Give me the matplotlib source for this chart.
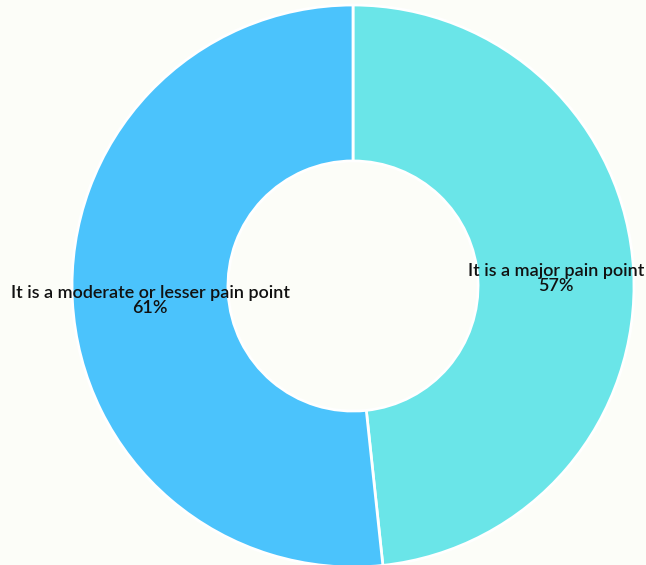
import matplotlib
matplotlib.use("Agg")
import matplotlib.pyplot as plt
import numpy as np

labels = ["It is a major pain point", "It is a moderate or lesser pain point"]
values = [57, 61]
colors = ["#6ae5e8", "#4bc3fc"]
background = "#fcfdf8"

W, H = 646, 565
fig = plt.figure(figsize=(W / 100, H / 100), dpi=100, facecolor=background)

# donut centre and radius in pixels
cx, cy, R = 353, 279, 281
ax = fig.add_axes([(cx - R) / W, (cy - R) / H, 2 * R / W, 2 * R / H])
ax.set_facecolor(background)

inner = 0.445
wedges, _ = ax.pie(
    values,
    radius=1,
    colors=colors,
    startangle=90,
    counterclock=False,
    wedgeprops=dict(width=1 - inner, edgecolor="white", linewidth=2, joinstyle="round"),
)
for w in wedges:
    w.set_clip_on(False)
ax.set_xlim(-1, 1)
ax.set_ylim(-1, 1)
ax.set_aspect("equal")
ax.axis("off")

total = sum(values)
start = 90.0
mid_r = (1 + inner) / 2
for lab, v in zip(labels, values):
    sweep = 360.0 * v / total
    mid = np.deg2rad(start - sweep / 2)
    x, y = mid_r * np.cos(mid), mid_r * np.sin(mid) - 0.012
    ax.text(x, y, f"{lab}\n{v}%", ha="center", va="center",
            fontsize=13.0, family="Lato", fontweight="semibold",
            color="#111111", linespacing=0.9)
    start -= sweep

fig.savefig("out.png", dpi=100, facecolor=background)
